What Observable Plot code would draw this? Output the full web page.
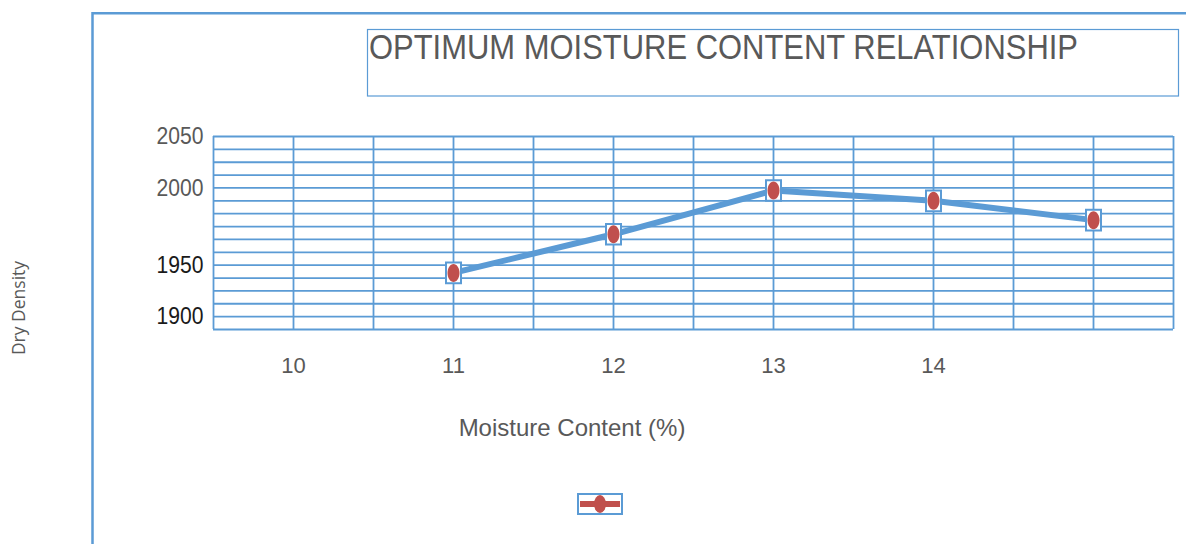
<!DOCTYPE html>
<html>
<head>
<meta charset="utf-8">
<script src="https://cdn.jsdelivr.net/npm/d3@7"></script>
<script src="https://cdn.jsdelivr.net/npm/@observablehq/plot@0.6"></script>
<style>
  html, body { margin: 0; padding: 0; background: #fff; }
  #wrap { position: relative; width: 1186px; height: 544px; overflow: hidden; }
  #chart { position: absolute; left: 0; top: 0; }
  #overlay { position: absolute; left: 0; top: 0; pointer-events: none; }
</style>
</head>
<body>
<div id="wrap">
  <div id="chart"></div>
  <svg id="overlay" width="1186" height="544"></svg>
</div>
<script>
// ---- data ----
const moisture = [11, 12, 13, 14, 15];
const dryDensity = [1944, 1974, 2008, 2000, 1985];
const xTickValues = [10, 11, 12, 13, 14];
const yTickValuesGray = [2050, 2010];
const yTickValuesDark = [1950, 1910];
const yTickLabels = {2050: "2050", 2010: "2000", 1950: "1950", 1910: "1900"};
const xGrid = [9.5, 10, 10.5, 11, 11.5, 12, 12.5, 13, 13.5, 14, 14.5, 15, 15.5];
const yGrid = [1900, 1910, 1920, 1930, 1940, 1950, 1960, 1970, 1980, 1990, 2000, 2010, 2020, 2030, 2040, 2050];
const titleText = "OPTIMUM MOISTURE CONTENT RELATIONSHIP";
const xLabel = "Moisture Content (%)";
const yLabel = "Dry Density";

const data = moisture.map((m, i) => ({moisture: m, density: dryDensity[i]}));

const BLUE = "#5b9bd5";
const RED = "#c0504d";
const GRAY = "#595959";

const rectSym = {draw(ctx) {
  const w = 7.5, h = 10.3;
  ctx.moveTo(-w, -h); ctx.lineTo(w, -h); ctx.lineTo(w, h); ctx.lineTo(-w, h); ctx.closePath();
}};
const ellipseSym = {draw(ctx) {
  const rx = 6, ry = 9, k = 0.5523;
  ctx.moveTo(0, -ry);
  ctx.bezierCurveTo(k * rx, -ry, rx, -k * ry, rx, 0);
  ctx.bezierCurveTo(rx, k * ry, k * rx, ry, 0, ry);
  ctx.bezierCurveTo(-k * rx, ry, -rx, k * ry, -rx, 0);
  ctx.bezierCurveTo(-rx, -k * ry, -k * rx, -ry, 0, -ry);
  ctx.closePath();
}};

const sans = "'Liberation Sans', Arial, sans-serif";

const chart = Plot.plot({
  width: 1186,
  height: 544,
  marginLeft: 213,
  marginRight: 13,
  marginTop: 136,
  marginBottom: 215,
  style: {background: "transparent", overflow: "visible"},
  x: {domain: [9.5, 15.5]},
  y: {domain: [1900, 2050]},
  marks: [
    Plot.ruleX(xGrid, {stroke: BLUE, strokeWidth: 1.8}),
    Plot.ruleY(yGrid, {stroke: BLUE, strokeWidth: 1.8}),
    Plot.line(data, {x: "moisture", y: "density", stroke: BLUE, strokeWidth: 6}),
    Plot.dot(data, {x: "moisture", y: "density", symbol: rectSym, r: 8, fill: "white", stroke: BLUE, strokeWidth: 2}),
    Plot.dot(data, {x: "moisture", y: "density", symbol: ellipseSym, r: 8, fill: RED, stroke: "none"}),
    Plot.axisX(xTickValues, {tickSize: 0, tickPadding: 28, fontSize: 22, color: GRAY, label: null,
      fontFamily: sans, tickFormat: d => String(d)}),
    Plot.axisY(yTickValuesGray, {tickSize: 0, tickPadding: 10, fontSize: 24, color: GRAY, label: null,
      fontFamily: sans, tickFormat: d => yTickLabels[d]}),
    Plot.axisY(yTickValuesDark, {tickSize: 0, tickPadding: 10, fontSize: 24, color: "#1a1a1a", label: null,
      fontFamily: sans, tickFormat: d => yTickLabels[d]})
  ]
});
document.getElementById("chart").appendChild(chart);
// narrow the y tick labels like the reference's condensed face
d3.select(chart).selectAll('g[aria-label="y-axis tick label"] text')
  .attr("textLength", 47).attr("lengthAdjust", "spacingAndGlyphs");

// ---- overlay: frame, title box, axis titles, legend ----
const ov = d3.select("#overlay");
ov.append("path").attr("d", "M92.5,544 L92.5,13.2 L1186,13.2")
  .attr("fill", "none").attr("stroke", BLUE).attr("stroke-width", 2.5);
ov.append("rect").attr("x", 367.5).attr("y", 29.5).attr("width", 811).attr("height", 66.5)
  .attr("fill", "none").attr("stroke", BLUE).attr("stroke-width", 1.2);
ov.append("text").attr("x", 369).attr("y", 59)
  .attr("font-family", sans).attr("font-size", 35)
  .attr("textLength", 709).attr("lengthAdjust", "spacingAndGlyphs")
  .attr("fill", GRAY).text(titleText);
ov.append("text").attr("x", 572).attr("y", 436).attr("text-anchor", "middle")
  .attr("font-family", sans).attr("font-size", 24)
  .attr("fill", GRAY).text(xLabel);
ov.append("text").attr("transform", "translate(25,308) rotate(-90)").attr("text-anchor", "middle")
  .attr("font-family", "'Open Sans', sans-serif").attr("font-size", 17.5)
  .attr("fill", GRAY).text(yLabel);
const lg = ov.append("g");
lg.append("rect").attr("x", 578).attr("y", 494).attr("width", 44).attr("height", 20)
  .attr("fill", "white").attr("stroke", BLUE).attr("stroke-width", 2);
lg.append("line").attr("x1", 580).attr("x2", 620).attr("y1", 504).attr("y2", 504)
  .attr("stroke", RED).attr("stroke-width", 6);
lg.append("ellipse").attr("cx", 600).attr("cy", 504).attr("rx", 6).attr("ry", 9).attr("fill", RED);
</script>
</body>
</html>
